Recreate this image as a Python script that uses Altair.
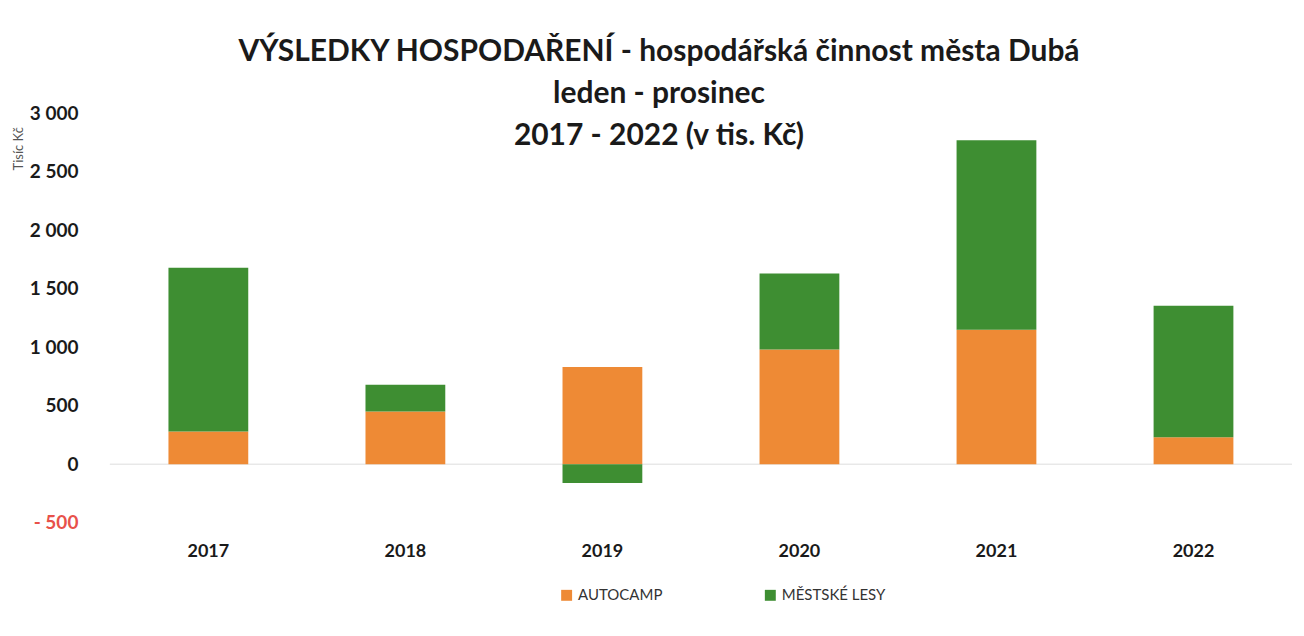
import altair as alt
import pandas as pd

years = ["2017", "2018", "2019", "2020", "2021", "2022"]
autocamp = [280, 450, 830, 980, 1150, 230]
mestske_lesy = [1400, 230, -160, 650, 1620, 1125]
series = ["AUTOCAMP", "MĚSTSKÉ LESY"]
colors = ["#EE8A35", "#3E8E32"]

rows = []
for i, y in enumerate(years):
    rows.append({"rok": y, "serie": series[0], "hodnota": autocamp[i], "poradi": 0})
    rows.append({"rok": y, "serie": series[1], "hodnota": mestske_lesy[i], "poradi": 1})
df = pd.DataFrame(rows)

FONT = "Lato"

bars = alt.Chart(df).mark_bar().encode(
    x=alt.X("rok:N", sort=years, title=None,
            scale=alt.Scale(paddingInner=0.595, paddingOuter=0.2975),
            axis=alt.Axis(labelAngle=0, domain=False, ticks=False, labelPadding=20,
                          labelFont=FONT, labelFontSize=18, labelFontWeight="bold",
                          labelColor="#1a1a1a")),
    y=alt.Y("hodnota:Q", stack="zero", title="Tisíc Kč",
            scale=alt.Scale(domain=[-500, 3000], nice=False),
            axis=alt.Axis(values=[-500, 0, 500, 1000, 1500, 2000, 2500, 3000],
                          grid=False, domain=False, ticks=False, labelPadding=32,
                          labelExpr="datum.value < 0 ? '- ' + format(abs(datum.value), 'd') : replace(format(datum.value, ','), ',', ' ')",
                          labelColor={"expr": "datum.value < 0 ? '#E8514A' : '#1a1a1a'"},
                          labelFont=FONT, labelFontSize=19, labelFontWeight="bold",
                          titleFont=FONT, titleFontSize=13, titleFontWeight="normal",
                          titleColor="#555555", titleX=-84, titleY=35)),
    color=alt.Color("serie:N", scale=alt.Scale(domain=series, range=colors),
                    legend=alt.Legend(title=None, orient="none", direction="horizontal",
                                      legendX=450, legendY=475,
                                      symbolType="square", symbolSize=120,
                                      labelFont=FONT, labelFontSize=15, labelColor="#333333",
                                      columnPadding=100, symbolStrokeWidth=0)),
    order=alt.Order("poradi:Q"),
)

zero = alt.Chart(pd.DataFrame({"z": [0]})).mark_rule(color="#dddddd", strokeWidth=1).encode(
    y="z:Q"
)

chart = alt.layer(zero, bars).properties(
    width=1184,
    height=410,
    padding={"left": 102, "top": 105, "right": 4, "bottom": 100},
    autosize=alt.AutoSizeParams(type="none"),
    background="white",
    title=alt.Title(
        text=["VÝSLEDKY HOSPODAŘENÍ - hospodářská činnost města Dubá",
              "leden - prosinec",
              "2017 - 2022 (v tis. Kč)"],
        font=FONT, fontSize=30, fontWeight="bold", color="#1a1a1a",
        anchor="middle", dx=-42, offset=-47, lineHeight=42,
    ),
).configure_view(stroke=None)

chart.save("out.html", embed_options={"renderer": "svg", "actions": False})
